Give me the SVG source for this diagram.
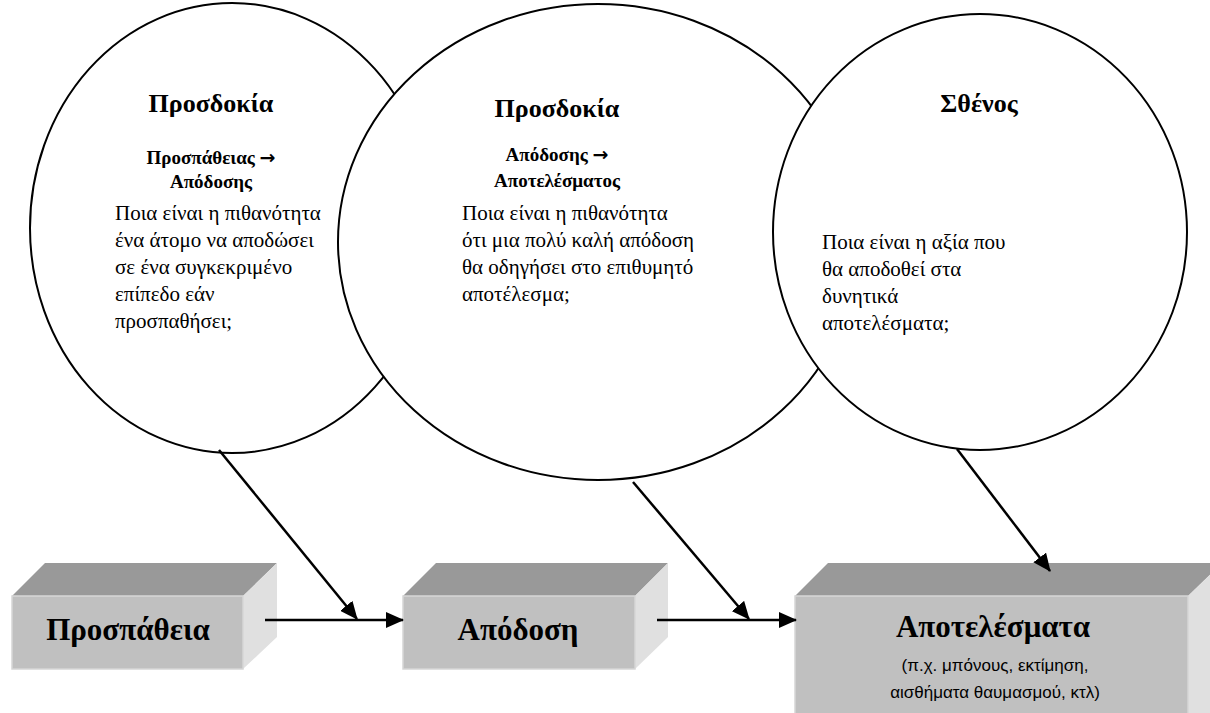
<svg xmlns="http://www.w3.org/2000/svg" width="1210" height="713" viewBox="0 0 1210 713">
<style>
.circ{fill:#fff;stroke:#000;stroke-width:2}
.ttl{font-weight:bold;font-size:26px;text-anchor:middle;fill:#000}
.sub{font-weight:bold;font-size:19px;text-anchor:middle;fill:#000}
.arr{font-family:"DejaVu Sans",sans-serif;font-weight:bold;font-size:19px}
.body{font-size:21px;fill:#000}
.btxt{font-weight:bold;font-size:31px;text-anchor:middle;fill:#000}
.small{font-family:"Liberation Sans","DejaVu Sans",sans-serif;font-size:17px;text-anchor:middle;fill:#000}
.top{fill:#999}
.front{fill:#c0c0c0;stroke:#d6d6d6;stroke-width:1.5}
.side{fill:#e0e0e0}
.conn{stroke:#000;stroke-width:2.5;fill:none;marker-end:url(#ah)}
</style>
<defs>
<marker id="ah" markerUnits="userSpaceOnUse" markerWidth="18" markerHeight="16" refX="17" refY="8" orient="auto">
<path d="M0,0 L18,8 L0,16 Z" fill="#000"/>
</marker>
</defs>
<rect width="1210" height="713" fill="#fff"/>
<g font-family="'Liberation Serif', 'DejaVu Serif', serif">
<g id="node-expectancy1">
<ellipse class="circ" cx="232" cy="228" rx="202" ry="225"/>
<text class="ttl" x="211" y="112">Προσδοκία</text>
<text class="sub" x="211" y="164">Προσπάθειας <tspan class="arr">→</tspan></text>
<text class="sub" x="211" y="188">Απόδοσης</text>
<text class="body" x="115" y="220">Ποια είναι η πιθανότητα</text>
<text class="body" x="115" y="247">ένα άτομο να αποδώσει</text>
<text class="body" x="115" y="274">σε ένα συγκεκριμένο</text>
<text class="body" x="115" y="301">επίπεδο εάν</text>
<text class="body" x="115" y="328">προσπαθήσει;</text>
</g>
<g id="node-expectancy2">
<ellipse class="circ" cx="598" cy="242" rx="260" ry="238"/>
<text class="ttl" x="557" y="117">Προσδοκία</text>
<text class="sub" x="557" y="161">Απόδοσης <tspan class="arr">→</tspan></text>
<text class="sub" x="557" y="187">Αποτελέσματος</text>
<text class="body" x="462" y="220">Ποια είναι η πιθανότητα</text>
<text class="body" x="462" y="247">ότι μια πολύ καλή απόδοση</text>
<text class="body" x="462" y="274">θα οδηγήσει στο επιθυμητό</text>
<text class="body" x="462" y="301">αποτέλεσμα;</text>
</g>
<g id="node-valence">
<ellipse class="circ" cx="980" cy="232" rx="207" ry="218"/>
<text class="ttl" x="979" y="112">Σθένος</text>
<text class="body" x="822" y="249">Ποια είναι η αξία που</text>
<text class="body" x="822" y="276">θα αποδοθεί στα</text>
<text class="body" x="822" y="303">δυνητικά</text>
<text class="body" x="822" y="330">αποτελέσματα;</text>
</g>
<g id="node-effort">
<polygon class="top" points="12,596 45,563 277,563 243,596"/>
<polygon class="side" points="243,596 277,563 277,637 243,669"/>
<rect class="front" x="12" y="596" width="231" height="73"/>
<text class="btxt" x="128" y="640">Προσπάθεια</text>
</g>
<g id="node-performance">
<polygon class="top" points="403,596 436,563 668,563 635,596"/>
<polygon class="side" points="635,596 668,563 668,637 635,669"/>
<rect class="front" x="403" y="596" width="232" height="73"/>
<text class="btxt" x="518" y="640">Απόδοση</text>
</g>
<g id="node-outcomes">
<polygon class="top" points="795,596 828,563 1222,563 1188,596"/>
<polygon class="side" points="1188,596 1222,563 1222,713 1188,713"/>
<rect class="front" x="795" y="596" width="393" height="120"/>
<text class="btxt" x="993" y="637">Αποτελέσματα</text>
<text class="small" x="995" y="671">(π.χ. μπόνους, εκτίμηση,</text>
<text class="small" x="995" y="698">αισθήματα θαυμασμού, κτλ)</text>
</g>
</g>
<g id="connectors">
<line class="conn" x1="219" y1="450" x2="357" y2="619"/>
<line class="conn" x1="265" y1="620" x2="403" y2="620"/>
<line class="conn" x1="633" y1="482" x2="749" y2="619"/>
<line class="conn" x1="657" y1="620" x2="796" y2="620"/>
<line class="conn" x1="957" y1="449" x2="1050" y2="571"/>
</g>
</svg>
